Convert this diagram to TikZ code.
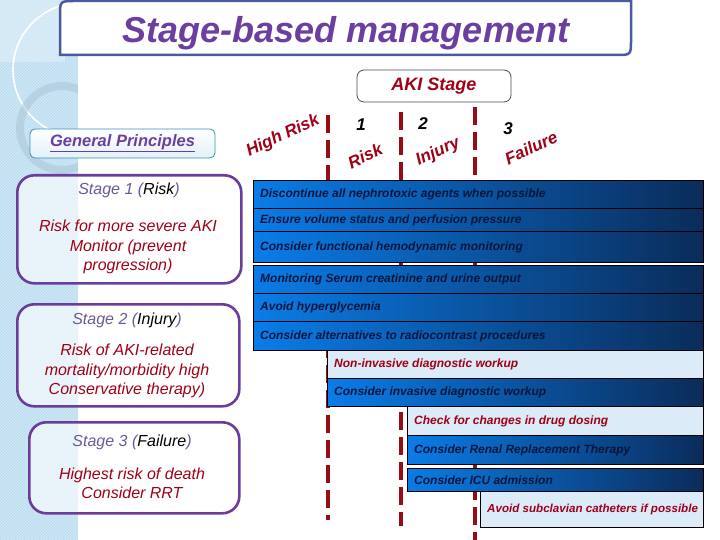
\documentclass[tikz,border=0pt]{standalone}
\usepackage{fontspec}
\setmainfont{Liberation Sans}
\usetikzlibrary{patterns}
\definecolor{titlepurple}{HTML}{6B3FA0}
\definecolor{titleline}{HTML}{4A5A9E}
\definecolor{stagepurple}{HTML}{6A3D9A}
\definecolor{headgray}{HTML}{6A5A9A}
\definecolor{darkred}{HTML}{A00018}
\definecolor{dashred}{HTML}{980C16}
\definecolor{blueL}{HTML}{0A7CE8}
\definecolor{blueR}{HTML}{0A2C5A}
\definecolor{navytext}{HTML}{08163A}
\definecolor{lightrowc}{HTML}{DCEBF8}
\definecolor{stripc}{HTML}{CDE7F5}
\definecolor{stripline}{HTML}{B6DAEE}
\definecolor{ringc}{HTML}{A9C3D3}
\definecolor{gpline}{HTML}{3F8FB8}
\definecolor{gpfill}{HTML}{E2F1FA}
\newcommand{\mkrow}[7]{%
  \node[#2, minimum width=#5pt, minimum height=#6pt] (#1) at (#3,#4) {};
  \node[#2text, anchor=west] (#1t) at ([xshift=7pt]#1.west) {#7};}
\begin{document}
\begin{tikzpicture}[x=1pt,y=-1pt,
  bluerow/.style={draw=black, line width=0.8pt, left color=blueL, right color=blueR, anchor=north west, inner sep=0pt},
  bluerowtext/.style={font=\bfseries\itshape\fontsize{12}{14}\selectfont, text=navytext, inner sep=0pt},
  lightrow/.style={draw=black, line width=0.8pt, fill=lightrowc, anchor=north west, inner sep=0pt},
  lightrowtext/.style={font=\bfseries\itshape\fontsize{12}{14}\selectfont, text=darkred, inner sep=0pt},
  smallrow/.style={lightrow},
  smallrowtext/.style={lightrowtext, font=\bfseries\itshape\fontsize{11.6}{14}\selectfont},
  stagebox/.style={draw=stagepurple, line width=2.6pt, rounded corners=17pt, fill=white, fill opacity=0.6, anchor=north west},
  stagehead/.style={font=\itshape\fontsize{16}{19}\selectfont, text=headgray},
  stagebody/.style={font=\itshape\fontsize{16}{19.5}\selectfont, text=darkred, align=center},
  rotlabel/.style={font=\bfseries\itshape\fontsize{17}{20}\selectfont, text=darkred, rotate=25, inner sep=0pt},
  numlabel/.style={font=\bfseries\itshape\fontsize{17}{20}\selectfont, text=black, inner sep=0pt},
  dashline/.style={draw=dashred, line width=3.2pt, dash pattern=on 18pt off 7pt}
]
\useasboundingbox (0,0) rectangle (720,540);
\fill[white] (0,0) rectangle (720,540);
% left decorative strip
\begin{scope}
  \clip (0,0) rectangle (78,540);
  \fill[stripc] (0,0) rectangle (78,540);
  \fill[pattern=north east lines, pattern color=stripline] (0,0) rectangle (78,540);
  \fill[white, opacity=0.3] (0,0) rectangle (65,62);
  \draw[white, line width=1.6pt] (80,70) circle[radius=67pt];
  \draw[ringc, line width=8pt, opacity=0.5] (62,128) circle[radius=42pt];
\end{scope}
% title
\draw[titleline, line width=2.5pt, fill=white] (60,55) -- (60,16) .. controls (60,1) .. (75,1) -- (631,1) -- (631,40) .. controls (631,55) .. (616,55) -- cycle;
\node[font=\bfseries\itshape\fontsize{36}{40}\selectfont, text=titlepurple] (title) at (346,33) {Stage-based management};
% AKI stage box
\node[draw=black!70, line width=0.8pt, rounded corners=7pt, fill=white, minimum width=154pt, minimum height=32pt, font=\bfseries\itshape\fontsize{18}{21}\selectfont, text=darkred] (aki) at (434,86) {AKI Stage};
% general principles
\node[draw=gpline, line width=0.8pt, rounded corners=5pt, top color=white, bottom color=gpfill, minimum width=185pt, minimum height=29pt, font=\bfseries\itshape\fontsize{16.5}{19}\selectfont, text=titlepurple] (gp) at (122.5,143.5) {\underline{General Principles}};
% dashed stage separators
\coordinate (d1t) at (328,115); \coordinate (d1b) at (328,520);
\coordinate (d2t) at (401,112); \coordinate (d2b) at (401,526);
\coordinate (d3t) at (475,107); \coordinate (d3b) at (475,540);
\draw[dashline] (d1t) -- (d1b);
\draw[dashline] (d2t) -- (d2b);
\draw[dashline] (d3t) -- (d3b);
% labels
\node[rotlabel] (hr) at (283,136) {High Risk};
\node[rotlabel] (lr) at (365,156) {Risk};
\node[rotlabel] (li) at (438,152) {Injury};
\node[rotlabel] (lf) at (531,148) {Failure};
\node[numlabel] (n1) at (361,125) {1};
\node[numlabel] (n2) at (423,124) {2};
\node[numlabel] (n3) at (508,129) {3};
% stage boxes
\node[stagebox, minimum width=224pt, minimum height=108pt] (s1) at (16,174) {};
\node[stagehead] (s1h) at (129,190) {Stage 1 ({\color{black}Risk})};
\node[stagebody] (s1b) at (128,247) {Risk for more severe AKI\\Monitor (prevent\\progression)};
\node[stagebox, minimum width=222pt, minimum height=102pt] (s2) at (16,303) {};
\node[stagehead] (s2h) at (127,320) {Stage 2 ({\color{black}Injury})};
\node[stagebody] (s2b) at (127,371) {Risk of AKI-related\\mortality/morbidity high\\Conservative therapy)};
\node[stagebox, minimum width=210pt, minimum height=91pt] (s3) at (28,421) {};
\node[stagehead] (s3h) at (132,442) {Stage 3 ({\color{black}Failure})};
\node[stagebody] (s3b) at (132,483.5) {Highest risk of death\\Consider RRT};
% management rows
\mkrow{r1}{bluerow}{253}{180}{450}{28}{Discontinue all nephrotoxic agents when possible}
\mkrow{r2}{bluerow}{253}{208}{450}{23}{Ensure volume status and perfusion pressure}
\mkrow{r3}{bluerow}{253}{231}{450}{31}{Consider functional hemodynamic monitoring}
\mkrow{r4}{bluerow}{253}{265}{450}{28}{Monitoring Serum creatinine and urine output}
\mkrow{r5}{bluerow}{253}{293}{450}{28}{Avoid hyperglycemia}
\mkrow{r6}{bluerow}{253}{321}{450}{29}{Consider alternatives to radiocontrast procedures}
\mkrow{r7}{lightrow}{327}{350}{376}{28}{Non-invasive diagnostic workup}
\mkrow{r8}{bluerow}{327}{378}{376}{28}{Consider invasive diagnostic workup}
\mkrow{r9}{lightrow}{407}{406}{296}{29}{Check for changes in drug dosing}
\mkrow{r10}{bluerow}{407}{435}{296}{29}{Consider Renal Replacement Therapy}
\mkrow{r11}{bluerow}{407}{468}{296}{23}{Consider ICU admission}
\mkrow{r12}{smallrow}{480}{491}{223}{36}{Avoid subclavian catheters if possible}
\end{tikzpicture}
\end{document}
